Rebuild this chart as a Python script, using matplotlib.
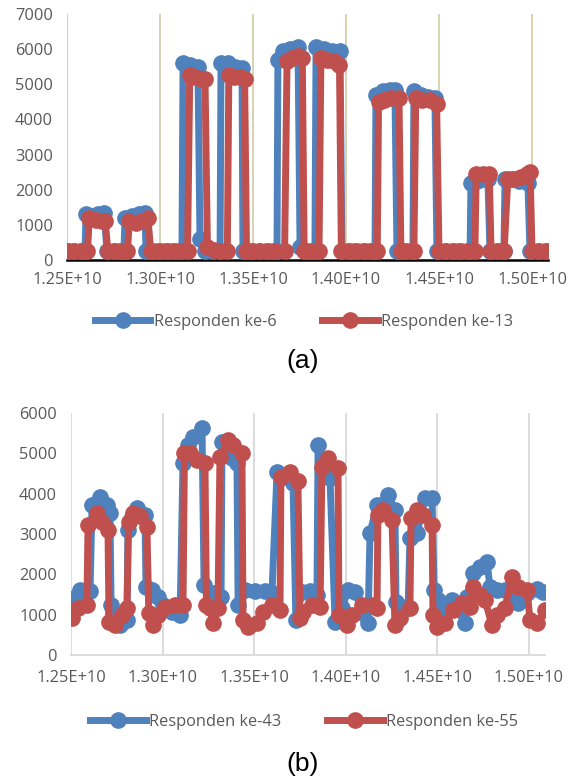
import numpy as np
import matplotlib
matplotlib.use("Agg")
import matplotlib.pyplot as plt
from matplotlib.ticker import FixedLocator, FuncFormatter

plt.rcParams['font.family'] = ['Open Sans', 'DejaVu Sans']

SCALE = 1e10  # x values below are in units of 1E+10

# ---- chart (a) ----
x_ke6 = [1.2505, 1.2540, 1.2575, 1.2597,
         1.2602, 1.2634, 1.2667, 1.2699,
         1.2715, 1.2750, 1.2785, 1.2806,
         1.2812, 1.2849, 1.2887, 1.2919,
         1.2925, 1.2965, 1.3005, 1.3045, 1.3085, 1.3118,
         1.3124, 1.3161, 1.3204,
         1.3215, 1.3242, 1.3285, 1.3323,
         1.3328, 1.3366, 1.3403, 1.3441,
         1.3446, 1.3490, 1.3530, 1.3570, 1.3610, 1.3629,
         1.3634, 1.3661, 1.3699, 1.3742,
         1.3753, 1.3790, 1.3833,
         1.3839, 1.3882, 1.3925, 1.3968,
         1.3978, 1.4020, 1.4060, 1.4100, 1.4140, 1.4156,
         1.4161, 1.4199, 1.4236, 1.4263,
         1.4274, 1.4310, 1.4360,
         1.4365, 1.4403, 1.4441, 1.4478,
         1.4489, 1.4530, 1.4570, 1.4610, 1.4650, 1.4667,
         1.4672, 1.4704, 1.4736, 1.4763,
         1.4774, 1.4810, 1.4849,
         1.4855, 1.4892, 1.4930, 1.4978,
         1.4989, 1.5030, 1.5070]
y_ke6 = [250, 250, 250, 250,
         1300, 1250, 1300, 1350,
         250, 250, 250, 250,
         1200, 1250, 1300, 1350,
         250, 250, 250, 250, 250, 250,
         5600, 5550, 5500,
         600, 250, 250, 250,
         5600, 5600, 5500, 5450,
         250, 250, 250, 250, 250, 250,
         5700, 5950, 6000, 6050,
         370, 250, 250,
         6050, 6000, 5950, 5950,
         250, 250, 250, 250, 250, 250,
         4700, 4800, 4850, 4850,
         250, 250, 250,
         4800, 4700, 4650, 4600,
         250, 250, 250, 250, 250, 250,
         2200, 2250, 2300, 2300,
         250, 250, 250,
         2300, 2300, 2250, 2200,
         250, 250, 250]

x_ke13 = [1.2505, 1.2540, 1.2575, 1.2610,
          1.2620, 1.2655, 1.2690, 1.2705,
          1.2720, 1.2760, 1.2795, 1.2825,
          1.2835, 1.2870, 1.2905, 1.2935,
          1.2950, 1.2990, 1.3030, 1.3070, 1.3110, 1.3148,
          1.3160, 1.3190, 1.3220, 1.3242,
          1.3255, 1.3290, 1.3325, 1.3362,
          1.3370, 1.3400, 1.3430, 1.3455,
          1.3465, 1.3500, 1.3540, 1.3580, 1.3620, 1.3670,
          1.3683, 1.3710, 1.3740, 1.3765,
          1.3775, 1.3810, 1.3855,
          1.3865, 1.3900, 1.3935, 1.3965,
          1.3975, 1.4010, 1.4050, 1.4090, 1.4130, 1.4168,
          1.4175, 1.4205, 1.4240, 1.4285,
          1.4295, 1.4330, 1.4365,
          1.4375, 1.4410, 1.4450, 1.4487,
          1.4500, 1.4540, 1.4580, 1.4620, 1.4660, 1.4693,
          1.4700, 1.4735, 1.4770,
          1.4780, 1.4815, 1.4850,
          1.4870, 1.4905, 1.4940, 1.4975, 1.4990,
          1.5000, 1.5040, 1.5080]
y_ke13 = [250, 250, 250, 250,
          1190, 1130, 1100, 1120,
          250, 250, 250, 250,
          1100, 1050, 1100, 1200,
          250, 250, 250, 250, 250, 250,
          5250, 5200, 5150, 5150,
          370, 280, 250, 250,
          5250, 5200, 5200, 5150,
          250, 250, 250, 250, 250, 250,
          5650, 5750, 5800, 5750,
          250, 250, 250,
          5750, 5700, 5650, 5550,
          250, 250, 250, 250, 250, 250,
          4500, 4550, 4600, 4600,
          250, 250, 250,
          4600, 4550, 4550, 4450,
          250, 250, 250, 250, 250, 250,
          2450, 2450, 2450,
          250, 250, 250,
          2300, 2300, 2350, 2450, 2500,
          250, 250, 250]

# ---- chart (b) ----
x_ke43 = [1.2505, 1.2511, 1.2527, 1.2549, 1.2604,
          1.2615, 1.2658, 1.2697, 1.2713,
          1.2719, 1.2729, 1.2768, 1.2806,
          1.2811, 1.2833, 1.2861, 1.2904,
          1.2910, 1.2943, 1.2975, 1.3003, 1.3052, 1.3096,
          1.3112, 1.3139, 1.3167, 1.3216,
          1.3227, 1.3276, 1.3320,
          1.3325, 1.3380, 1.3407,
          1.3413, 1.3451, 1.3505, 1.3560, 1.3598,
          1.3626, 1.3669, 1.3713,
          1.3729, 1.3762, 1.3806, 1.3844,
          1.3850, 1.3877, 1.3915,
          1.3943, 1.3981, 1.4014, 1.4052, 1.4096, 1.4123,
          1.4134, 1.4172, 1.4232, 1.4270,
          1.4276, 1.4309, 1.4342,
          1.4352, 1.4391, 1.4434, 1.4473,
          1.4484, 1.4506, 1.4544, 1.4582, 1.4626, 1.4653,
          1.4664, 1.4697, 1.4735, 1.4773,
          1.4789, 1.4828, 1.4871, 1.4915, 1.4942, 1.4992, 1.5046, 1.5079]
y_ke43 = [1040, 1300, 1450, 1610, 1590,
          3720, 3920, 3720, 3520,
          1240, 1040, 740, 870,
          3100, 3420, 3640, 3470,
          1690, 1610, 1440, 1240, 1070, 990,
          4760, 5200, 5410, 5630,
          1740, 1540, 1440,
          5290, 4880, 4760,
          1240, 1610, 1590, 1590, 1540,
          4540, 4420, 4260,
          870, 1560, 1590, 1500,
          5210, 4760, 4400,
          820, 1170, 1610, 1560, 1040, 790,
          3030, 3720, 3970, 3600,
          1310, 1190, 1170,
          2900, 3030, 3890, 3890,
          1610, 1370, 1040, 1370, 1120, 790,
          1440, 2030, 2180, 2310,
          1690, 1610, 1610, 1440, 1290, 1540, 1640, 1560]

x_ke55 = [1.2505, 1.2538, 1.2587,
          1.2593, 1.2642, 1.2669, 1.2702,
          1.2708, 1.2740, 1.2779, 1.2806,
          1.2815, 1.2839, 1.2877, 1.2915,
          1.2925, 1.2948, 1.2975, 1.3014, 1.3068, 1.3112,
          1.3120, 1.3150, 1.3188, 1.3232,
          1.3240, 1.3260, 1.3276, 1.3303,
          1.3314, 1.3358, 1.3385, 1.3434,
          1.3440, 1.3467, 1.3516, 1.3549, 1.3598, 1.3642,
          1.3647, 1.3697, 1.3740,
          1.3751, 1.3768, 1.3817, 1.3861,
          1.3871, 1.3904, 1.3959,
          1.3964, 1.4008, 1.4035, 1.4090, 1.4150, 1.4172,
          1.4177, 1.4205, 1.4254,
          1.4270, 1.4298, 1.4352,
          1.4358, 1.4391, 1.4423, 1.4473,
          1.4478, 1.4500, 1.4544, 1.4587, 1.4636, 1.4680,
          1.4697, 1.4735, 1.4762, 1.4800, 1.4828, 1.4871,
          1.4910, 1.4942, 1.4992, 1.5008, 1.5046, 1.5090]
y_ke55 = [920, 1170, 1240,
          3220, 3520, 3300, 3100,
          820, 740, 990, 1160,
          3300, 3520, 3450, 3170,
          1040, 740, 1000, 1190, 1240, 1240,
          5000, 5000, 4840, 4760,
          1240, 1170, 790, 1170,
          4900, 5330, 5200, 5000,
          870, 700, 800, 1070, 1240, 1120,
          4410, 4540, 4320,
          920, 1070, 1240, 1190,
          4660, 4880, 4630,
          990, 740, 990, 1240, 1240, 1160,
          3470, 3600, 3350,
          740, 920, 1160,
          3400, 3600, 3470, 3220,
          990, 700, 790, 1120, 1290, 1200,
          1690, 1490, 1370, 740, 990, 1160,
          1940, 1690, 1610, 870, 790, 1120]

x_ticks = [1.25, 1.30, 1.35, 1.40, 1.45, 1.50]

BLUE = '#4F81BD'
RED = '#C0504D'
LABEL = '#595959'
FS = 11.8


def draw(ax, xa, ya, xb, yb, names, xmax, ymax, ystep, grid_color, axis_color, axis_lw, xpad):
    for xs, ys, c, name, z in [(xa, ya, BLUE, names[0], 3), (xb, yb, RED, names[1], 4)]:
        ax.plot(np.array(xs) * SCALE, ys, color=c, lw=5, marker='o', ms=11,
                solid_joinstyle='round', label=name, zorder=z)
    ax.set_xlim(1.25 * SCALE, xmax * SCALE)
    ax.set_ylim(0, ymax)
    ax.xaxis.set_major_locator(FixedLocator([t * SCALE for t in x_ticks]))
    ax.xaxis.set_major_formatter(FuncFormatter(lambda v, p: '%.2E' % v))
    ax.set_yticks(np.arange(0, ymax + 1, ystep))
    ax.grid(axis='x', color=grid_color, lw=1.3, zorder=0)
    for s in ['top', 'right', 'left']:
        ax.spines[s].set_visible(False)
    ax.spines['bottom'].set_color(axis_color)
    ax.spines['bottom'].set_linewidth(axis_lw)
    ax.spines['bottom'].set_zorder(2)
    ax.tick_params(axis='both', length=0, labelsize=FS, labelcolor=LABEL)
    ax.tick_params(axis='y', pad=10)
    ax.tick_params(axis='x', pad=xpad)
    ax.set_axisbelow(True)


fig = plt.figure(figsize=(5.68, 7.8), dpi=100)

ax1 = fig.add_axes([67 / 568, 1 - 260 / 780, (548 - 67) / 568, 246 / 780])
draw(ax1, x_ke6, y_ke6, x_ke13, y_ke13, ['Responden ke-6', 'Responden ke-13'],
     1.5086, 7000, 1000, '#D5CFAE', 'black', 1.8, 8.5)
ax1.legend(loc='center', bbox_to_anchor=(304 / 568, 1 - 322 / 780),
           bbox_transform=fig.transFigure, ncol=2, frameon=False, fontsize=FS,
           handlelength=3.4, handletextpad=0.2, columnspacing=2.8,
           labelcolor=LABEL)

ax2 = fig.add_axes([71 / 568, 1 - 655 / 780, (545 - 71) / 568, 242 / 780])
draw(ax2, x_ke43, y_ke43, x_ke55, y_ke55, ['Responden ke-43', 'Responden ke-55'],
     1.5090, 6000, 1000, '#D9D9D9', '#D9D9D9', 1.3, 11)
ax2.legend(loc='center', bbox_to_anchor=(304 / 568, 1 - 722 / 780),
           bbox_transform=fig.transFigure, ncol=2, frameon=False, fontsize=FS,
           handlelength=3.4, handletextpad=0.2, columnspacing=2.8,
           labelcolor=LABEL)

fig.text(303 / 568, 1 - 361 / 780, '(a)', ha='center', va='center', fontsize=19,
         family=['Liberation Sans', 'DejaVu Sans'])
fig.text(303 / 568, 1 - 764 / 780, '(b)', ha='center', va='center', fontsize=19,
         family=['Liberation Sans', 'DejaVu Sans'])

fig.savefig('out.png', dpi=100)
